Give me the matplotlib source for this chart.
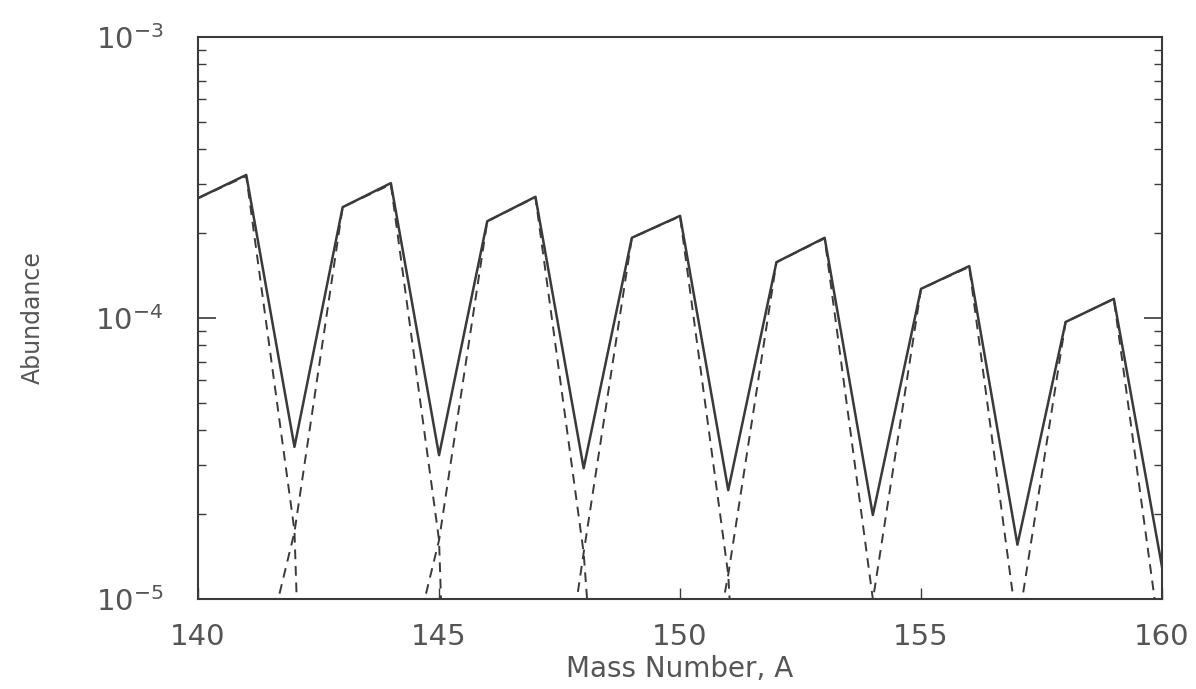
import matplotlib
matplotlib.use("Agg")
import matplotlib.pyplot as plt
from matplotlib.ticker import LogLocator, NullFormatter

# numero de masa A
masa = list(range(140, 161))

# abundancia total (linea continua)
total = [2.67e-4, 3.23e-4, 3.48e-5, 2.48e-4, 3.02e-4, 3.25e-5, 2.21e-4,
         2.70e-4, 2.92e-5, 1.93e-4, 2.31e-4, 2.44e-5, 1.58e-4, 1.93e-4,
         1.99e-5, 1.27e-4, 1.53e-4, 1.56e-5, 9.68e-5, 1.17e-4, 1.30e-5]

# componentes (lineas discontinuas), grupos alternos
comp_a = [2.67e-4, 3.20e-4, 1.75e-5, 1e-10, 3.2e-6, 1.62e-5, 2.21e-4,
          2.69e-4, 1.46e-5, 7e-8, 1.5e-6, 1.22e-5, 1.58e-4, 1.92e-4,
          1.0e-5, 1e-8, 1.0e-6, 7.8e-6, 9.68e-5, 1.17e-4, 6.4e-6]
comp_b = [1e-10, 3.4e-6, 1.73e-5, 2.48e-4, 2.99e-4, 1.62e-5, 1e-10,
          1.0e-6, 1.46e-5, 1.93e-4, 2.30e-4, 1.22e-5, 1e-8, 1.0e-6,
          9.9e-6, 1.27e-4, 1.52e-4, 7.8e-6, 1e-8, 5e-7, 6.6e-6]

GRIS = '#3a3a3a'
TXT = '#555555'

fig = plt.figure(figsize=(11.96, 6.89), dpi=100)
ax = fig.add_axes([0.1656, 0.1306, 0.8060, 0.8157])

ax.plot(masa, comp_a, color=GRIS, lw=1.4, ls=(0, (5, 3.5)))
ax.plot(masa, comp_b, color=GRIS, lw=1.4, ls=(0, (5, 3.5)))
ax.plot(masa, total, color=GRIS, lw=1.8)

ax.set_yscale('log')
ax.set_xlim(140, 160)
ax.set_ylim(1e-5, 1e-3)

ax.set_xticks([140, 145, 150, 155, 160])
ax.yaxis.set_major_locator(LogLocator(base=10, numticks=5))
ax.yaxis.set_minor_locator(LogLocator(base=10, subs=range(2, 10), numticks=20))
ax.yaxis.set_minor_formatter(NullFormatter())

ax.tick_params(axis='both', which='both', direction='in', colors=GRIS,
               labelcolor=TXT, labelsize=21)
ax.tick_params(axis='y', which='major', length=13, width=1.2, right=True, pad=25)
ax.tick_params(axis='y', which='minor', length=6, width=1.0, right=True)
ax.tick_params(axis='x', which='major', length=8, width=1.0, top=False, pad=17)

for s in ax.spines.values():
    s.set_color(GRIS)
    s.set_linewidth(1.5)

ax.set_xlabel("Mass Number, A", fontsize=20, color=TXT, labelpad=3)
ax.set_ylabel("Abundance", fontsize=17, color=TXT, labelpad=36)

fig.savefig("out.png", dpi=100)
